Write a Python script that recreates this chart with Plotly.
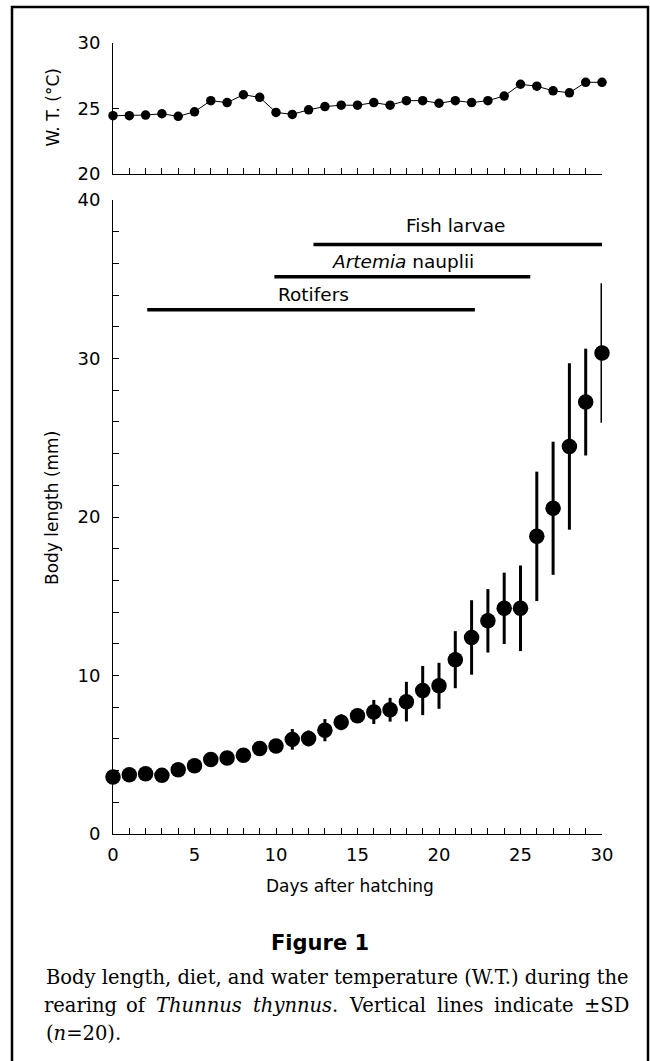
import plotly.graph_objects as go

# ---------------- data ----------------
days = list(range(0, 31))

water_temp = [24.45, 24.45, 24.5, 24.6, 24.4, 24.75, 25.6, 25.45, 26.05, 25.85,
              24.7, 24.55, 24.9, 25.15, 25.25, 25.25, 25.45, 25.25, 25.6, 25.6,
              25.4, 25.6, 25.45, 25.6, 25.95, 26.85, 26.7, 26.35, 26.2, 27.0, 27.0]

body_length = [3.6, 3.74, 3.8, 3.7, 4.05, 4.3, 4.7, 4.8, 4.97, 5.4,
               5.55, 5.97, 6.03, 6.55, 7.05, 7.46, 7.7, 7.84, 8.35, 9.05,
               9.35, 11.0, 12.4, 13.45, 14.24, 14.24, 18.78, 20.55, 24.45, 27.25, 30.35]

body_sd = [0.2, 0.2, 0.2, 0.2, 0.2, 0.2, 0.2, 0.2, 0.25, 0.2,
           0.2, 0.65, 0.5, 0.7, 0.5, 0.3, 0.76, 0.75, 1.25, 1.55,
           1.45, 1.8, 2.35, 2.0, 2.25, 2.7, 4.08, 4.2, 5.25, 3.37, 4.4]

diet_names = ["Fish larvae", "<i>Artemia</i> nauplii", "Rotifers"]
diet_start = [12.3, 9.9, 2.1]
diet_end = [30.1, 25.6, 22.2]
diet_level = [37.2, 35.15, 33.07]
diet_label_x = [21.0, 17.8, 12.3]
diet_label_y = [38.4, 36.1, 34.05]

x_ticks = [0, 5, 10, 15, 20, 25, 30]
y_ticks_main = [0, 10, 20, 30, 40]
y_ticks_top = [20, 25, 30]

caption_title = "Figure 1"
caption_line1 = "Body length, diet, and water temperature (W.T.) during the"
caption_line2_words = ["rearing", "of", "<i>Thunnus</i>", "<i>thynnus</i>.",
                       "Vertical", "lines", "indicate", "\u00b1SD"]
caption_line3 = "(<i>n</i>=20)."

# ---------------- layout helpers ----------------
W, H = 650, 1061
def px_x(p):
    return p / W
def px_y(p):
    return 1 - p / H

SANS = "DejaVu Sans, Verdana, sans-serif"
SERIF = "DejaVu Serif, serif"

fig = go.Figure()

# top panel: water temperature
fig.add_trace(go.Scatter(
    x=days, y=water_temp, mode="lines+markers",
    line=dict(color="black", width=1),
    marker=dict(color="black", size=9.5),
    xaxis="x2", yaxis="y2", cliponaxis=False, showlegend=False,
))

# diet bars
for name, s, e, lv in zip(diet_names, diet_start, diet_end, diet_level):
    fig.add_trace(go.Scatter(
        x=[s, e], y=[lv, lv], mode="lines",
        line=dict(color="black", width=3.5),
        xaxis="x", yaxis="y", showlegend=False, cliponaxis=False,
    ))
for name, lx, ly in zip(diet_names, diet_label_x, diet_label_y):
    fig.add_annotation(x=lx, y=ly, xref="x", yref="y", text=name,
                       xanchor="center", yanchor="middle",
                       showarrow=False, font=dict(family=SANS, size=18.5, color="black"))

# body length with SD
fig.add_trace(go.Scatter(
    x=days, y=body_length, mode="markers",
    marker=dict(color="black", size=15.5),
    error_y=dict(type="data", array=body_sd, visible=True,
                 color="black", thickness=3, width=0),
    xaxis="x", yaxis="y", cliponaxis=False, showlegend=False,
))

xdom = [px_x(113), px_x(602)]
axis_common = dict(showgrid=False, zeroline=False, showline=True, automargin=False,
                   linecolor="black", linewidth=1, ticks="inside",
                   tickcolor="black", ticklen=6, tickwidth=1,
                   tickfont=dict(family=SANS, size=18, color="black"))

fig.update_layout(
    template="none",
    width=W, height=H, autosize=False,
    margin=dict(l=0, r=0, t=0, b=0, pad=0),
    paper_bgcolor="white", plot_bgcolor="white",
    showlegend=False,
    xaxis=dict(domain=xdom, range=[0, 30], anchor="y",
               tickvals=x_ticks, ticktext=[str(v) for v in x_ticks],
               ticklabelstandoff=4,
               minor=dict(dtick=1, tick0=0, ticks="inside", ticklen=6, tickcolor="black", tickwidth=1),
               **axis_common),
    yaxis=dict(domain=[px_y(834), px_y(200)], range=[0, 40], anchor="x",
               tickvals=y_ticks_main, ticklabelstandoff=8,
               minor=dict(dtick=2, tick0=0, ticks="inside", ticklen=6, tickcolor="black", tickwidth=1),
               **axis_common),
    xaxis2=dict(domain=xdom, range=[0, 30], anchor="y2",
                tickvals=list(range(0, 31)), showticklabels=False,
                **axis_common),
    yaxis2=dict(domain=[px_y(174), px_y(43)], range=[20, 30], anchor="x2",
                tickvals=y_ticks_top, ticklabelstandoff=8,
                **axis_common),
)

def paper_text(x, y, text, font, xanchor="center", angle=0):
    fig.add_annotation(x=px_x(x), y=px_y(y), xref="paper", yref="paper",
                       text=text, showarrow=False, textangle=angle,
                       xanchor=xanchor, yanchor="middle", font=font)

TITLE_FONT = dict(family=SANS, size=17, color="black")
# axis titles
paper_text(350, 886, "Days after hatching", TITLE_FONT)
paper_text(52, 508, "Body length (mm)", TITLE_FONT, angle=-90)
paper_text(53, 107.5, "W. T. (\u00b0C)", TITLE_FONT, angle=-90)

# frame
fig.add_shape(type="rect", xref="paper", yref="paper",
              x0=px_x(12), x1=px_x(648), y0=px_y(1075), y1=px_y(7),
              line=dict(color="black", width=2.5), layer="above")

# caption
CAP_SIZE = 19.5
CAP_FONT = dict(family=SERIF, size=CAP_SIZE, color="black")
CAP_LEFT, CAP_RIGHT = 43.5, 628.5
paper_text(320, 943, "<b>" + caption_title + "</b>", dict(family=SANS, size=21, color="black"))
paper_text(CAP_LEFT, 977, caption_line1, CAP_FONT, xanchor="left")

# justified second line: approximate DejaVu Serif advance widths (em)
glyph_em = {"a": .596, "c": .560, "d": .640, "e": .592, "f": .370, "g": .640, "h": .644,
            "i": .320, "l": .320, "n": .644, "o": .602, "r": .478, "s": .513, "t": .402,
            "u": .644, "y": .565, "T": .682, "V": .722, "S": .685, "D": .771,
            "\u00b1": .838, ".": .318}
def word_width(w):
    plain = w.replace("<i>", "").replace("</i>", "")
    return sum(glyph_em.get(ch, .6) for ch in plain) * CAP_SIZE
widths = [word_width(w) for w in caption_line2_words]
gap = (CAP_RIGHT - CAP_LEFT - sum(widths)) / (len(widths) - 1)
pos = CAP_LEFT
for w, wd in zip(caption_line2_words, widths):
    paper_text(pos + wd / 2, 1005, w, CAP_FONT)
    pos += wd + gap

paper_text(CAP_LEFT, 1033, caption_line3, CAP_FONT, xanchor="left")

fig.write_html("out.html",
               config={"displayModeBar": False},
               post_script="document.body.style.margin='0px';document.body.style.overflow='hidden';")
